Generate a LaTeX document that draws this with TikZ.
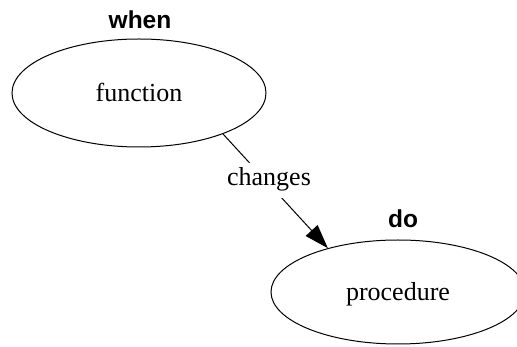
\documentclass[tikz,border=0pt]{standalone}
\usepackage{fontspec}
\setmainfont{Liberation Serif}
\newfontfamily\labelfont{Liberation Sans}
\usetikzlibrary{shapes.geometric,arrows.meta}

\tikzset{
  state/.style={ellipse, draw, line width=1pt, inner sep=0pt,
    font=\fontsize{26}{30}\selectfont, text height=18pt, text depth=0pt},
  tag/.style={anchor=base, inner sep=0pt,
    font=\labelfont\bfseries\fontsize{24.5}{28}\selectfont},
  trans/.style={line width=1pt, -{Triangle[length=24pt,width=16pt]}},
  translabel/.style={anchor=base, fill=white, inner sep=0pt,
    font=\fontsize{26}{30}\selectfont, text height=23pt, text depth=12pt}
}

\begin{document}
\begin{tikzpicture}[x=1pt, y=-1pt]
  \useasboundingbox (0,0) rectangle (517,347);

  % the two states
  \node[state, minimum width=254pt, minimum height=108pt] (f) at (139,93) {function};
  \node[state, minimum width=254pt, minimum height=104pt] (p) at (398,292) {procedure};

  % their outside labels
  \node[tag] (fw) at (140,29) {when};
  \node[tag] (pd) at (403,228) {do};

  % the transition and its label
  \draw[trans] (f.-26.3) -- (p.148.6);
  \node[translabel] (ch) at (269,186) {changes};
\end{tikzpicture}
\end{document}
